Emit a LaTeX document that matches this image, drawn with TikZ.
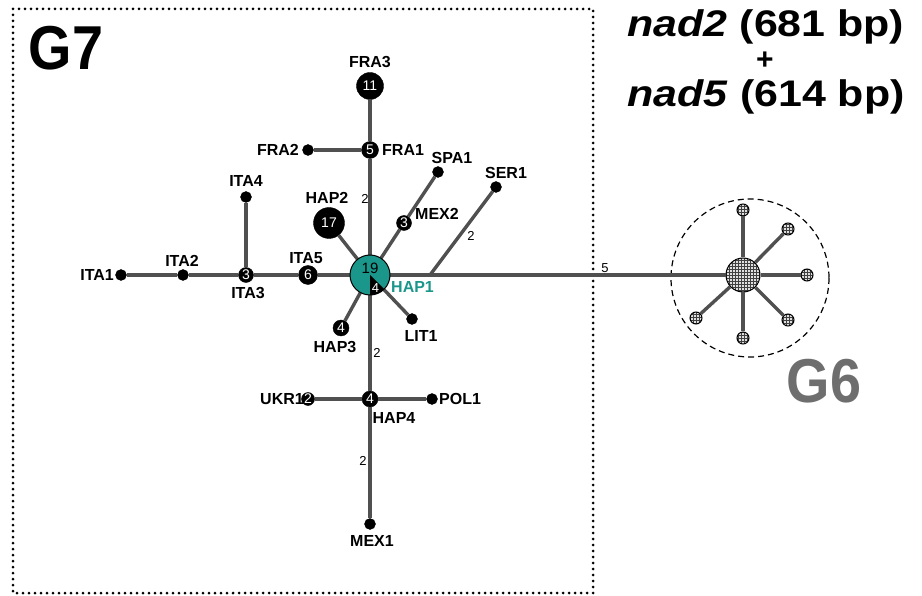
\documentclass[tikz,border=0pt]{standalone}
\usepackage{fontspec}
\setmainfont{Liberation Sans}
\usetikzlibrary{patterns}
\definecolor{edgegray}{HTML}{505050}
\definecolor{teal1}{HTML}{1A968A}
\definecolor{gsix}{HTML}{6E6E6E}
\tikzset{
  edge/.style={draw=edgegray, line width=3.4pt},
  hap/.style={circle, fill=black, draw=black, text=white, inner sep=0pt, font=\fontsize{14}{14}\selectfont},
  dotnode/.style={circle, fill=black, draw=black, inner sep=0pt, minimum size=11pt},
  lbl/.style={font=\fontsize{16}{16}\selectfont\bfseries, inner sep=0pt},
  elbl/.style={font=\fontsize{13}{13}\selectfont, inner sep=0pt},
  chk/.style={circle, draw=black, line width=1pt, inner sep=0pt, preaction={fill=gray!25}, pattern=grid, pattern color=black!75},
}
\begin{document}
\begin{tikzpicture}[x=1pt, y=-1pt]
\useasboundingbox (0,0) rectangle (922,596);
% dotted frame
\draw[line width=3pt, dash pattern=on 0pt off 6pt, line cap=round] (13,9) rectangle (593,593);
% big labels
\node[font=\fontsize{62}{62}\selectfont\bfseries, inner sep=0pt] (g7) at (66,48) {\scalebox{0.9}[1]{G7}};
\node[font=\fontsize{62}{62}\selectfont\bfseries, text=gsix, inner sep=0pt] (g6lbl) at (824,381) {\scalebox{0.9}[1]{G6}};
\node[font=\fontsize{37}{37}\selectfont\bfseries, inner sep=0pt] (t1) at (766,27) {\scalebox{1.16}[1]{\textit{nad2} (681 bp)}};
\node[font=\fontsize{30}{30}\selectfont\bfseries, inner sep=0pt] (t2) at (765,61) {+};
\node[font=\fontsize{37}{37}\selectfont\bfseries, inner sep=0pt] (t3) at (766,97) {\scalebox{1.16}[1]{\textit{nad5} (614 bp)}};

% G6 dashed circle
\draw[line width=1.2pt, dash pattern=on 6pt off 4pt] (750,278) circle (79);

% nodes
\node[hap, minimum size=27pt] (FRA3) at (370,86) {11};
\node[hap, minimum size=17pt] (FRA1) at (370,150) {5};
\node[dotnode] (FRA2) at (308,150) {};
\node[dotnode] (SPA1) at (438,172) {};
\node[dotnode] (SER1) at (496,187) {};
\node[hap, minimum size=15pt] (MEX2) at (404,223) {3};
\node[hap, minimum size=31pt] (HAP2) at (329,223) {17};
\node[hap, minimum size=19pt] (ITA5) at (308,275) {6};
\node[hap, minimum size=15pt] (ITA3) at (246,275) {3};
\node[dotnode] (ITA4) at (246,197) {};
\node[dotnode] (ITA2) at (183,275) {};
\node[dotnode] (ITA1) at (121,275) {};
\node[hap, minimum size=16pt] (HAP3) at (341,328) {4};
\node[dotnode] (LIT1) at (412,319) {};
\node[hap, minimum size=16pt] (HAP4) at (370,399) {4};
\node[hap, minimum size=13pt] (UKR1) at (308,399) {2};
\node[dotnode] (POL1) at (432,399) {};
\node[dotnode] (MEX1) at (370,524) {};
\node[circle, minimum size=40pt, inner sep=0pt] (HAP1) at (370,275) {};
\coordinate (J) at (430,275);

\node[chk, minimum size=34pt] (G6) at (743,275) {};
\node[chk, minimum size=12pt] (s1) at (743,210) {};
\node[chk, minimum size=12pt] (s2) at (788,229) {};
\node[chk, minimum size=12pt] (s3) at (807,275) {};
\node[chk, minimum size=12pt] (s4) at (788,320) {};
\node[chk, minimum size=12pt] (s5) at (743,338) {};
\node[chk, minimum size=12pt] (s6) at (696,318) {};

% edges
\draw[edge] (HAP1) -- (FRA1);
\draw[edge] (FRA1) -- (FRA3);
\draw[edge] (FRA1) -- (FRA2);
\draw[edge] (HAP1) -- (MEX2);
\draw[edge] (MEX2) -- (SPA1);
\draw[edge] (HAP1) -- (HAP2);
\draw[edge] (HAP1) -- (ITA5);
\draw[edge] (ITA5) -- (ITA3);
\draw[edge] (ITA3) -- (ITA4);
\draw[edge] (ITA3) -- (ITA2);
\draw[edge] (ITA2) -- (ITA1);
\draw[edge] (HAP1) -- (HAP3);
\draw[edge] (HAP1) -- (LIT1);
\draw[edge] (HAP1) -- (HAP4);
\draw[edge] (HAP4) -- (UKR1);
\draw[edge] (HAP4) -- (POL1);
\draw[edge] (HAP4) -- (MEX1);
\draw[edge] (HAP1) -- (G6);
\draw[edge] (J) -- (SER1);
\draw[edge] (G6) -- (s1);
\draw[edge] (G6) -- (s2);
\draw[edge] (G6) -- (s3);
\draw[edge] (G6) -- (s4);
\draw[edge] (G6) -- (s5);
\draw[edge] (G6) -- (s6);

% HAP1 pie
\fill[teal1] (HAP1.center) circle (20);
\fill[black] (HAP1.center) -- ++(90:20) arc[start angle=90, end angle=45, radius=20] -- cycle;
\draw[black, line width=1pt] (HAP1.center) circle (20);
\node[font=\fontsize{15}{15}\selectfont, inner sep=0pt] (n19) at (370,268) {19};
\node[font=\fontsize{13}{13}\selectfont, text=white, inner sep=0pt] (n4) at (375.5,288) {4};

% labels
\node[lbl] (lFRA3) at (370,62) {FRA3};
\node[lbl, anchor=west] (lFRA1) at (382,150) {FRA1};
\node[lbl, anchor=east] (lFRA2) at (299,150) {FRA2};
\node[lbl] (lSPA1) at (452,158) {SPA1};
\node[lbl] (lSER1) at (506,173) {SER1};
\node[lbl] (lMEX2) at (437,214) {MEX2};
\node[lbl] (lHAP2) at (327,198) {HAP2};
\node[lbl] (lITA4) at (246,181) {ITA4};
\node[lbl] (lITA5) at (306,258) {ITA5};
\node[lbl] (lITA3) at (248,293) {ITA3};
\node[lbl] (lITA2) at (182,261) {ITA2};
\node[lbl, anchor=east] (lITA1) at (114,275) {ITA1};
\node[lbl] (lHAP3) at (335,347) {HAP3};
\node[lbl] (lLIT1) at (421,336) {LIT1};
\node[lbl] (lHAP4) at (394,418) {HAP4};
\node[lbl, anchor=east] (lUKR1) at (304,399) {UKR1};
\node[lbl, anchor=west] (lPOL1) at (439,399) {POL1};
\node[lbl] (lMEX1) at (372,541) {MEX1};
\node[lbl, anchor=west, text=teal1] (lHAP1) at (391,287) {HAP1};

% edge labels
\node[elbl] (e1) at (365,199) {2};
\node[elbl] (e2) at (471,236) {2};
\node[elbl] (e3) at (377,353) {2};
\node[elbl] (e4) at (363,461) {2};
\node[elbl] (e5) at (605,268) {5};
\end{tikzpicture}
\end{document}
